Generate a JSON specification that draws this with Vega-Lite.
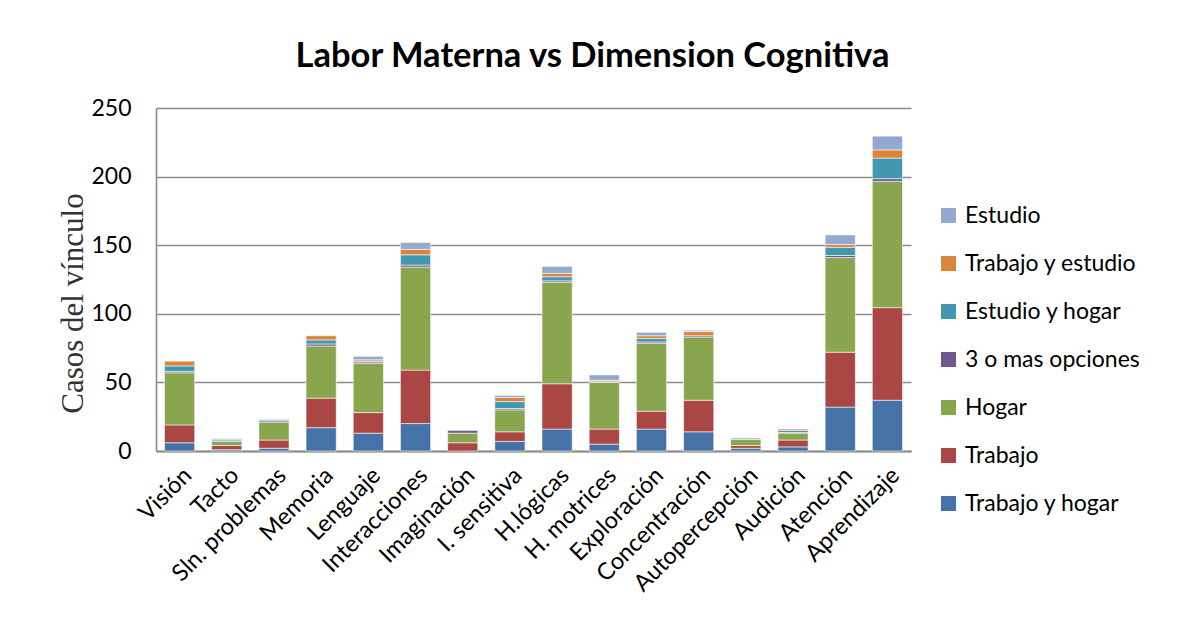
{
  "$schema": "https://vega.github.io/schema/vega-lite/v6.json",
  "autosize": {"type": "none"},
  "padding": {"left": 156, "top": 108, "right": 266, "bottom": 185},
  "width": 755,
  "height": 343,
  "background": "white",
  "title": {"text": "Labor Materna vs Dimension Cognitiva", "font": "Lato", "fontSize": 34.5, "fontWeight": "bold", "color": "black", "anchor": "middle", "dx": 59, "offset": 23},
  "data": {"values": [
    {"dim": "Visión", "tipo": "Trabajo y hogar", "casos": 6},
    {"dim": "Visión", "tipo": "Trabajo", "casos": 13},
    {"dim": "Visión", "tipo": "Hogar", "casos": 38},
    {"dim": "Visión", "tipo": "3 o mas opciones", "casos": 1},
    {"dim": "Visión", "tipo": "Estudio y hogar", "casos": 4},
    {"dim": "Visión", "tipo": "Trabajo y estudio", "casos": 3.5},
    {"dim": "Tacto", "tipo": "Trabajo y hogar", "casos": 1},
    {"dim": "Tacto", "tipo": "Trabajo", "casos": 3},
    {"dim": "Tacto", "tipo": "Hogar", "casos": 3},
    {"dim": "Tacto", "tipo": "Estudio y hogar", "casos": 1},
    {"dim": "Tacto", "tipo": "Trabajo y estudio", "casos": 0.7},
    {"dim": "Tacto", "tipo": "Estudio", "casos": 0.5},
    {"dim": "Sln. problemas", "tipo": "Trabajo y hogar", "casos": 2},
    {"dim": "Sln. problemas", "tipo": "Trabajo", "casos": 6},
    {"dim": "Sln. problemas", "tipo": "Hogar", "casos": 13},
    {"dim": "Sln. problemas", "tipo": "3 o mas opciones", "casos": 1},
    {"dim": "Sln. problemas", "tipo": "Estudio", "casos": 1},
    {"dim": "Memoria", "tipo": "Trabajo y hogar", "casos": 17},
    {"dim": "Memoria", "tipo": "Trabajo", "casos": 21.5},
    {"dim": "Memoria", "tipo": "Hogar", "casos": 38},
    {"dim": "Memoria", "tipo": "3 o mas opciones", "casos": 1.5},
    {"dim": "Memoria", "tipo": "Estudio y hogar", "casos": 3},
    {"dim": "Memoria", "tipo": "Trabajo y estudio", "casos": 3},
    {"dim": "Lenguaje", "tipo": "Trabajo y hogar", "casos": 13},
    {"dim": "Lenguaje", "tipo": "Trabajo", "casos": 15},
    {"dim": "Lenguaje", "tipo": "Hogar", "casos": 36},
    {"dim": "Lenguaje", "tipo": "3 o mas opciones", "casos": 1},
    {"dim": "Lenguaje", "tipo": "Estudio y hogar", "casos": 0.5},
    {"dim": "Lenguaje", "tipo": "Trabajo y estudio", "casos": 1},
    {"dim": "Lenguaje", "tipo": "Estudio", "casos": 2.5},
    {"dim": "Interacciones", "tipo": "Trabajo y hogar", "casos": 20},
    {"dim": "Interacciones", "tipo": "Trabajo", "casos": 39},
    {"dim": "Interacciones", "tipo": "Hogar", "casos": 75},
    {"dim": "Interacciones", "tipo": "3 o mas opciones", "casos": 1.5},
    {"dim": "Interacciones", "tipo": "Estudio y hogar", "casos": 7.5},
    {"dim": "Interacciones", "tipo": "Trabajo y estudio", "casos": 4},
    {"dim": "Interacciones", "tipo": "Estudio", "casos": 5},
    {"dim": "Imaginación", "tipo": "Trabajo", "casos": 6},
    {"dim": "Imaginación", "tipo": "Hogar", "casos": 7},
    {"dim": "Imaginación", "tipo": "3 o mas opciones", "casos": 2},
    {"dim": "I. sensitiva", "tipo": "Trabajo y hogar", "casos": 7},
    {"dim": "I. sensitiva", "tipo": "Trabajo", "casos": 7},
    {"dim": "I. sensitiva", "tipo": "Hogar", "casos": 16},
    {"dim": "I. sensitiva", "tipo": "3 o mas opciones", "casos": 1},
    {"dim": "I. sensitiva", "tipo": "Estudio y hogar", "casos": 5},
    {"dim": "I. sensitiva", "tipo": "Trabajo y estudio", "casos": 3},
    {"dim": "I. sensitiva", "tipo": "Estudio", "casos": 1.5},
    {"dim": "H.lógicas", "tipo": "Trabajo y hogar", "casos": 16},
    {"dim": "H.lógicas", "tipo": "Trabajo", "casos": 33},
    {"dim": "H.lógicas", "tipo": "Hogar", "casos": 74},
    {"dim": "H.lógicas", "tipo": "3 o mas opciones", "casos": 1},
    {"dim": "H.lógicas", "tipo": "Estudio y hogar", "casos": 3},
    {"dim": "H.lógicas", "tipo": "Trabajo y estudio", "casos": 2.5},
    {"dim": "H.lógicas", "tipo": "Estudio", "casos": 5},
    {"dim": "H. motrices", "tipo": "Trabajo y hogar", "casos": 5},
    {"dim": "H. motrices", "tipo": "Trabajo", "casos": 11},
    {"dim": "H. motrices", "tipo": "Hogar", "casos": 34},
    {"dim": "H. motrices", "tipo": "Estudio y hogar", "casos": 0.5},
    {"dim": "H. motrices", "tipo": "Trabajo y estudio", "casos": 1},
    {"dim": "H. motrices", "tipo": "Estudio", "casos": 4},
    {"dim": "Exploración", "tipo": "Trabajo y hogar", "casos": 16},
    {"dim": "Exploración", "tipo": "Trabajo", "casos": 13},
    {"dim": "Exploración", "tipo": "Hogar", "casos": 49.5},
    {"dim": "Exploración", "tipo": "3 o mas opciones", "casos": 1},
    {"dim": "Exploración", "tipo": "Estudio y hogar", "casos": 2.5},
    {"dim": "Exploración", "tipo": "Trabajo y estudio", "casos": 2},
    {"dim": "Exploración", "tipo": "Estudio", "casos": 2.5},
    {"dim": "Concentración", "tipo": "Trabajo y hogar", "casos": 14},
    {"dim": "Concentración", "tipo": "Trabajo", "casos": 23},
    {"dim": "Concentración", "tipo": "Hogar", "casos": 46},
    {"dim": "Concentración", "tipo": "3 o mas opciones", "casos": 1},
    {"dim": "Concentración", "tipo": "Trabajo y estudio", "casos": 3},
    {"dim": "Concentración", "tipo": "Estudio", "casos": 1},
    {"dim": "Autopercepción", "tipo": "Trabajo y hogar", "casos": 2},
    {"dim": "Autopercepción", "tipo": "Trabajo", "casos": 2},
    {"dim": "Autopercepción", "tipo": "Hogar", "casos": 4.5},
    {"dim": "Autopercepción", "tipo": "Estudio", "casos": 1},
    {"dim": "Audición", "tipo": "Trabajo y hogar", "casos": 3},
    {"dim": "Audición", "tipo": "Trabajo", "casos": 5},
    {"dim": "Audición", "tipo": "Hogar", "casos": 5},
    {"dim": "Audición", "tipo": "3 o mas opciones", "casos": 0.5},
    {"dim": "Audición", "tipo": "Estudio y hogar", "casos": 1.5},
    {"dim": "Audición", "tipo": "Trabajo y estudio", "casos": 1},
    {"dim": "Atención", "tipo": "Trabajo y hogar", "casos": 32},
    {"dim": "Atención", "tipo": "Trabajo", "casos": 40},
    {"dim": "Atención", "tipo": "Hogar", "casos": 69},
    {"dim": "Atención", "tipo": "3 o mas opciones", "casos": 1.5},
    {"dim": "Atención", "tipo": "Estudio y hogar", "casos": 6},
    {"dim": "Atención", "tipo": "Trabajo y estudio", "casos": 2},
    {"dim": "Atención", "tipo": "Estudio", "casos": 7},
    {"dim": "Aprendizaje", "tipo": "Trabajo y hogar", "casos": 37},
    {"dim": "Aprendizaje", "tipo": "Trabajo", "casos": 67.5},
    {"dim": "Aprendizaje", "tipo": "Hogar", "casos": 92},
    {"dim": "Aprendizaje", "tipo": "3 o mas opciones", "casos": 2},
    {"dim": "Aprendizaje", "tipo": "Estudio y hogar", "casos": 15},
    {"dim": "Aprendizaje", "tipo": "Trabajo y estudio", "casos": 6},
    {"dim": "Aprendizaje", "tipo": "Estudio", "casos": 10}
  ]},
  "transform": [
    {"calculate": "indexof(['Estudio','Trabajo y estudio','Estudio y hogar','3 o mas opciones','Hogar','Trabajo','Trabajo y hogar'], datum.tipo)", "as": "orden"}
  ],
  "mark": {"type": "bar", "stroke": "white", "strokeWidth": 0.8, "strokeOpacity": 0.7},
  "encoding": {
    "x": {
      "field": "dim", "type": "nominal", "sort": null, "title": null,
      "scale": {"paddingInner": 0.36, "paddingOuter": 0.18},
      "axis": {"labelAngle": -45, "labelFont": "Lato", "labelFontSize": 23.5, "labelColor": "black", "ticks": false, "labelPadding": 12, "labelLimit": 300, "domainColor": "#8c8c8c", "domainWidth": 2}
    },
    "y": {
      "field": "casos", "type": "quantitative", "stack": "zero",
      "scale": {"domain": [0, 250], "nice": false},
      "axis": {
        "values": [0, 50, 100, 150, 200, 250],
        "title": "Casos  del vínculo", "titleFont": "Liberation Serif", "titleFontSize": 31, "titleFontWeight": "normal", "titleColor": "#333333",
        "titleX": -74, "titleY": 195, "titleBaseline": "alphabetic", "titleAngle": -90,
        "labelFont": "Lato", "labelFontSize": 23, "labelColor": "black", "ticks": false, "labelPadding": 25,
        "grid": true, "gridColor": "#8c8c8c", "gridWidth": 1.6, "domainColor": "#8c8c8c", "domainWidth": 1.6
      }
    },
    "color": {
      "field": "tipo", "type": "nominal",
      "scale": {
        "domain": ["Estudio", "Trabajo y estudio", "Estudio y hogar", "3 o mas opciones", "Hogar", "Trabajo", "Trabajo y hogar"],
        "range": ["#93A9CF", "#DB843D", "#4198AF", "#71588F", "#89A54E", "#AA4643", "#4572A7"]
      },
      "legend": {
        "title": null, "orient": "none", "legendX": 781, "legendY": 96,
        "symbolType": "square", "symbolSize": 225, "symbolStrokeWidth": 0,
        "labelFont": "Lato", "labelFontSize": 23, "labelColor": "black", "labelOffset": 5, "labelLimit": 300, "rowPadding": 24, "padding": 0
      }
    },
    "order": {"field": "orden", "type": "quantitative", "sort": "descending"}
  },
  "config": {"view": {"stroke": null}}
}
